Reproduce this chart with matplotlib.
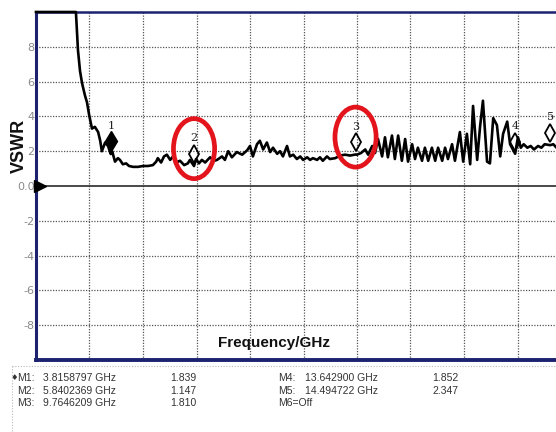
import matplotlib.pyplot as plt
from matplotlib.patches import Ellipse

# VNA trace (GHz, VSWR); values above the screen are pinned at 10
freq_ghz = [2.00, 2.97, 3.02, 3.07, 3.12, 3.19, 3.24, 3.29, 3.36, 3.43,
            3.51, 3.56, 3.60, 3.68, 3.75, 3.816, 3.85, 3.92, 3.99, 4.04,
            4.11, 4.19, 4.26, 4.36, 4.48, 4.60, 4.72, 4.84, 4.92, 4.96,
            5.04, 5.11, 5.18, 5.26, 5.33, 5.40, 5.50, 5.60, 5.69, 5.74,
            5.84, 5.89, 5.96, 6.03, 6.11, 6.23, 6.33, 6.40, 6.52, 6.59,
            6.67, 6.76, 6.88, 7.01, 7.13, 7.20, 7.27, 7.37, 7.44, 7.52,
            7.61, 7.69, 7.76, 7.86, 7.93, 8.00, 8.10, 8.17, 8.25, 8.34,
            8.42, 8.49, 8.59, 8.66, 8.73, 8.83, 8.90, 8.97, 9.07, 9.14,
            9.27, 9.39, 9.51, 9.63, 9.765, 9.80, 9.90, 10.00, 10.07, 10.17,
            10.24, 10.31, 10.41, 10.48, 10.55, 10.65, 10.72, 10.80, 10.89, 10.97,
            11.04, 11.14, 11.21, 11.28, 11.38, 11.45, 11.53, 11.62, 11.70, 11.77,
            11.87, 11.94, 12.01, 12.11, 12.18, 12.30, 12.38, 12.47, 12.55, 12.62,
            12.72, 12.79, 12.86, 12.96, 13.03, 13.11, 13.20, 13.28, 13.35, 13.45,
            13.52, 13.643, 13.71, 13.78, 13.85, 13.94, 14.02, 14.10, 14.20, 14.28,
            14.36, 14.495, 14.57, 14.65, 14.73, 14.83, 14.92, 15.00]
vswr = [10.0, 10.0, 7.8, 6.6, 5.9, 5.2, 4.8, 4.1, 3.3, 3.4,
        3.1, 2.6, 2.0, 2.5, 2.3, 1.839, 2.0, 1.4, 1.6, 1.5,
        1.25, 1.3, 1.15, 1.1, 1.1, 1.15, 1.15, 1.2, 1.4, 1.6,
        1.35, 1.7, 1.8, 1.5, 1.7, 1.35, 1.45, 1.2, 1.3, 1.5,
        1.147, 1.55, 1.3, 1.5, 1.35, 1.65, 1.45, 1.5, 1.7, 1.5,
        2.0, 1.65, 1.95, 1.8, 2.05, 2.3, 1.7, 2.4, 2.6, 2.1,
        2.5, 1.95, 2.2, 1.85, 2.0, 1.7, 2.3, 1.7, 1.8, 1.55,
        1.7, 1.5, 1.65, 1.5, 1.6, 1.5, 1.65, 1.45, 1.7, 1.55,
        1.6, 1.75, 1.8, 1.75, 1.81, 1.8, 1.9, 2.1, 1.8, 2.3,
        1.9, 2.7, 1.7, 2.8, 1.65, 2.9, 1.55, 2.9, 1.45, 2.7,
        1.4, 2.4, 1.55, 2.2, 1.45, 2.2, 1.45, 2.2, 1.45, 2.2,
        1.45, 2.2, 1.55, 2.4, 1.45, 3.1, 1.4, 3.0, 1.25, 4.6,
        1.5, 3.4, 4.9, 1.4, 1.3, 3.9, 3.5, 1.7, 3.0, 3.7,
        2.4, 1.852, 2.8, 2.2, 2.4, 2.2, 2.3, 2.1, 2.3, 2.2,
        2.4, 2.347, 2.4, 2.2, 2.1, 2.3, 2.0, 2.2]

marker_ids = [1, 2, 3, 4, 5]
marker_freq = [3.8158797, 5.8402369, 9.7646209, 13.642900, 14.494722]
marker_vswr = [1.839, 1.147, 1.810, 1.852, 2.347]
circled = [2, 3]

y_ticks = [-8, -6, -4, -2, 0, 2, 4, 6, 8]
y_tick_labels = ["-8", "-6", "-4", "-2", "0.0", "2", "4", "6", "8"]
f_start, f_stop = 2.0, 15.0
n_div = 10

navy = "#1c2270"

fig = plt.figure(figsize=(5.56, 4.32), dpi=100)
ax = fig.add_axes([36 / 556, 1 - 360 / 432, 535 / 556, 348 / 432])

ax.set_xlim(f_start, f_stop)
ax.set_ylim(-10, 10)

# dotted screen graticule
step = (f_stop - f_start) / n_div
for k in range(1, n_div):
    ax.axvline(f_start + k * step, color="#555555", lw=0.9, ls=(0, (1, 1.2)), zorder=1)
for yv in y_ticks:
    if yv != 0:
        ax.axhline(yv, color="#555555", lw=0.9, ls=(0, (1, 1.2)), zorder=1)

# reference line and its pointer
ax.axhline(0, color="#3a3a3a", lw=1.3, zorder=2)
ax.plot([f_start + 0.1], [0], marker=">", color="black", ms=8, clip_on=False, zorder=5)

ax.plot(freq_ghz, vswr, color="black", lw=1.9, zorder=3, clip_on=False,
        solid_joinstyle="round")

# marker symbols + numbers
for mid, f, v in zip(marker_ids, marker_freq, marker_vswr):
    if mid == 1:
        ax.plot(f, v + 0.75, marker="d", ms=10, color="black", zorder=4)
    else:
        ax.plot(f, v + 0.7, marker="d", ms=9, mfc="none", mec="black", mew=1.3, zorder=4)
    ax.text(f, v + 1.6, str(mid), ha="center", va="center", fontsize=8,
            family="DejaVu Serif", color="#222222", zorder=4)

for mid in circled:
    i = marker_ids.index(mid)
    ax.add_patch(Ellipse((marker_freq[i], marker_vswr[i] + 1.0), 1.0, 3.45,
                         fill=False, ec="#e3141c", lw=3.4, zorder=6))

ax.set_xticks([])
ax.set_yticks(y_ticks)
ax.set_yticklabels(y_tick_labels)
ax.tick_params(axis="y", length=0, pad=1, labelsize=8, labelcolor="#8a8a8a")

ax.spines["left"].set_color(navy)
ax.spines["left"].set_linewidth(2.2)
ax.spines["top"].set_color(navy)
ax.spines["top"].set_linewidth(1.8)
ax.spines["bottom"].set_color(navy)
ax.spines["bottom"].set_linewidth(2.8)
ax.spines["right"].set_visible(False)

ax.text(0.445, 0.048, "Frequency/GHz", transform=ax.transAxes, ha="center", va="center",
        fontsize=11, fontweight="bold", family="Liberation Sans", color="#111111")
fig.text(19 / 556, 1 - 146 / 432, "VSWR", rotation=90, ha="center", va="center",
         fontsize=13, fontweight="bold", family="Liberation Sans", color="#111111")


# marker readout table under the screen
def ghz_text(f):
    return (f"{f:.7f}" if f < 10 else f"{f:.6f}") + " GHz"


row_y = [378, 391, 403]
tkw = dict(fontsize=7.5, family="Liberation Sans", color="#333333", va="center")
for i, (mid, f, v) in enumerate(zip(marker_ids, marker_freq, marker_vswr)):
    col = 0 if i < 3 else 1
    y = 1 - row_y[i % 3] / 432
    x0 = [17, 278][col] / 556
    x1 = [43, 305][col] / 556
    x2 = [170, 432][col] / 556
    fig.text(x0, y, f"M{mid}:", **tkw)
    fig.text(x1, y, ghz_text(f), **tkw)
    fig.text(x2, y, f"{v:.3f}", **tkw)
fig.text(278 / 556, 1 - row_y[2] / 432, "M6=Off", **tkw)
fig.text(11 / 556, 1 - row_y[0] / 432, "\u2666", fontsize=6, family="DejaVu Sans",
         color="#333333", va="center")

fig.lines.append(plt.Line2D([12 / 556, 1], [1 - 366 / 432] * 2, transform=fig.transFigure,
                            color="#bbbbbb", lw=0.8, ls=(0, (1, 1.5))))
fig.lines.append(plt.Line2D([12 / 556] * 2, [1 - 366 / 432, 0], transform=fig.transFigure,
                            color="#bbbbbb", lw=0.8, ls=(0, (1, 1.5))))

fig.savefig("out.png", dpi=100, facecolor="white")
